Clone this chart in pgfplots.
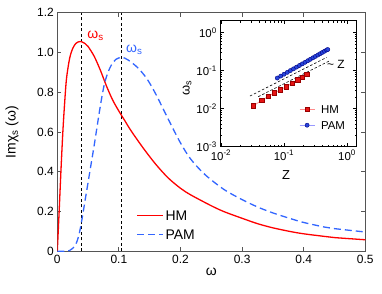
\documentclass[border=0pt]{standalone}
\usepackage{fontspec}
\setmainfont{Liberation Sans}
\usepackage{pgfplots}
\pgfplotsset{compat=1.18}
\definecolor{hmred}{RGB}{255,0,0}
\definecolor{pamblue}{RGB}{51,102,255}
\definecolor{framegray}{RGB}{85,85,85}
\definecolor{insetred}{RGB}{230,20,20}
\definecolor{insetblue}{RGB}{40,70,220}
\begin{document}
\begin{tikzpicture}
\path (-57.3bp,-42.7bp) rectangle (324.7bp,251.3bp);
\begin{axis}[
  at={(0bp,0bp)}, anchor=south west,
  scale only axis, width=308bp, height=238.6bp,
  xmin=0, xmax=0.5, ymin=0, ymax=1.2,
  xtick={0,0.1,0.2,0.3,0.4,0.5},
  xticklabels={0,0.1,0.2,0.3,0.4,0.5},
  ytick={0,0.2,0.4,0.6,0.8,1.0,1.2},
  yticklabels={0,0.2,0.4,0.6,0.8,1.0,1.2},
  tick align=inside, major tick length=4bp,
  axis line style={framegray, line width=1.5bp},
  tick style={framegray, line width=0.8bp},
  tick label style={font=\fontsize{12}{14}\selectfont},
  xlabel={ω}, ylabel={Imχ\textsubscript{s} (ω)},
  label style={font=\fontsize{14}{16}\selectfont},
  xlabel style={at={(axis description cs:0.5,-0.087)}, anchor=center},
  ylabel style={at={(axis description cs:-0.147,0.5)}, anchor=center},
]
\addplot[black, line width=0.7bp, dash pattern=on 3bp off 2.5bp, forget plot] coordinates {(0.0385,0) (0.0385,1.2)};
\addplot[black, line width=0.7bp, dash pattern=on 3bp off 2.5bp, forget plot] coordinates {(0.104,0) (0.104,1.2)};
\addplot[color=hmred, line width=1.3bp, solid, smooth] coordinates {
(0,0) (0.003,0.2) (0.006,0.41) (0.009,0.6) (0.012,0.75) (0.015,0.87) (0.02,0.97) (0.025,1.02) (0.03,1.045) (0.035,1.054) (0.0385,1.055) (0.045,1.045) (0.05,1.03) (0.06,0.98) (0.07,0.91) (0.08,0.83) (0.09,0.76) (0.1,0.705) (0.11,0.655) (0.12,0.605) (0.14,0.517) (0.16,0.437) (0.18,0.369) (0.2,0.317) (0.217,0.283) (0.25,0.229) (0.271,0.199) (0.3,0.166) (0.325,0.139) (0.35,0.118) (0.379,0.099) (0.4,0.088) (0.4335,0.075) (0.45,0.069) (0.5,0.058)};
\addplot[color=pamblue, line width=1.3bp, dash pattern=on 7bp off 4bp, smooth] coordinates {
(0,0) (0.015,0) (0.02,0.004) (0.025,0.015) (0.03,0.035) (0.035,0.08) (0.04,0.16) (0.044,0.235) (0.048,0.31) (0.052,0.385) (0.056,0.46) (0.06,0.535) (0.064,0.615) (0.068,0.695) (0.072,0.77) (0.076,0.835) (0.08,0.88) (0.085,0.92) (0.09,0.948) (0.095,0.965) (0.1045,0.976) (0.115,0.962) (0.13,0.925) (0.145,0.87) (0.16,0.79) (0.18,0.665) (0.2,0.545) (0.217,0.462) (0.24,0.385) (0.271,0.31) (0.3,0.26) (0.325,0.223) (0.35,0.193) (0.379,0.164) (0.4,0.145) (0.4335,0.122) (0.45,0.114) (0.5,0.097)};
% legend keys
\fill[fill=hmred, draw=none] (axis cs:0.1294,0.1775) rectangle (axis cs:0.1716,0.1845);
\draw[pamblue, line width=1.3bp, dash pattern=on 7bp off 4bp] (axis cs:0.1294,0.0855) -- (axis cs:0.1716,0.0855);
\node[anchor=west, inner sep=0pt, text height=10bp, text depth=0pt, font=\fontsize{14}{16}\selectfont] at (axis cs:0.1755,0.181) {HM};
\node[anchor=west, inner sep=0pt, text height=10bp, text depth=0pt, font=\fontsize{14}{16}\selectfont] at (axis cs:0.1755,0.0855) {PAM};
\node[hmred, anchor=base west, font=\fontsize{14}{16}\selectfont, inner sep=0pt] at (axis cs:0.0487,1.07) {ω\textsubscript{s}};
\node[pamblue, anchor=base west, font=\fontsize{14}{16}\selectfont, inner sep=0pt] at (axis cs:0.1115,0.999) {ω\textsubscript{s}};
\end{axis}
\begin{axis}[
  at={(163bp,104.6bp)}, anchor=south west,
  scale only axis, width=136.4bp, height=126bp,
  xmode=log, ymode=log,
  xmin=0.00975, xmax=1.426, ymin=0.001, ymax=2.06,
  xtick={0.01,0.1,1}, ytick={0.001,0.01,0.1,1},
  xticklabels={10\textsuperscript{-2},10\textsuperscript{-1},10\textsuperscript{0}},
  yticklabels={10\textsuperscript{-3},10\textsuperscript{-2},10\textsuperscript{-1},10\textsuperscript{0}},
  tick align=inside, major tick length=3.5bp, minor tick length=2bp,
  axis line style={black, line width=0.8bp},
  tick style={black, line width=0.5bp},
  axis background/.style={fill=white},
  tick label style={font=\fontsize{11.5}{13}\selectfont},
  xlabel={Z}, ylabel={ω\textsubscript{s}},
  label style={font=\fontsize{13}{15}\selectfont},
  xlabel style={at={(axis description cs:0.482,-0.225)}, anchor=center},
  ylabel style={at={(axis description cs:-0.244,0.466)}, anchor=center},
  legend style={at={(rel axis cs:0.577,0.331)}, anchor=north west, draw=none, fill=none,
    inner sep=0pt, row sep=8bp, font=\fontsize{11.5}{13}\selectfont,
    nodes={inner sep=0pt, text height=8bp, text depth=0pt}},
  legend cell align=left,
  /tikz/every odd column/.append style={column sep=6bp},
  legend image code/.code={\draw[mark repeat=2,mark phase=2,#1] plot coordinates {(0bp,0bp) (7.5bp,0bp) (15bp,0bp)};},
]
\addplot[black, line width=0.6bp, dash pattern=on 2.5bp off 2bp, forget plot] coordinates {(0.0288,0.0215) (0.476,0.223)};
\addplot[black, line width=0.6bp, dash pattern=on 2.5bp off 2bp, forget plot] coordinates {(0.0391,0.0207) (0.537,0.184)};
\addplot[red!45, line width=0.8bp, mark=square*, mark size=2.3bp, mark options={fill=insetred, draw=red!60!black, line width=0.4bp}] coordinates {
(0.0326,0.0119) (0.0443,0.0166) (0.0563,0.0211) (0.0702,0.0262) (0.0873,0.0313) (0.1088,0.0381) (0.1355,0.0467) (0.165,0.0569) (0.195,0.0667) (0.229,0.0812)};
\addlegendentry{HM}
\addplot[blue!40, line width=0.8bp, mark=*, mark size=2.1bp, mark options={fill=insetblue, draw=blue!50!black, line width=0.4bp}] coordinates {
(0.0783,0.0640) (0.0887,0.0719) (0.1000,0.0805) (0.1127,0.0901) (0.1264,0.1005) (0.1415,0.1117) (0.1580,0.1239) (0.1761,0.1371) (0.1954,0.1510) (0.2163,0.1663) (0.2387,0.1824) (0.2626,0.1995) (0.2884,0.2178) (0.3155,0.2371) (0.3443,0.2576) (0.3741,0.2786) (0.4064,0.3013) (0.4395,0.3243) (0.4742,0.3483) (0.4950,0.3600)};
\addlegendentry{PAM}
\node[anchor=center, font=\fontsize{12}{14}\selectfont, inner sep=0pt] at (axis cs:0.668,0.147) {\textasciitilde\ Z};
\end{axis}
\end{tikzpicture}
\end{document}
